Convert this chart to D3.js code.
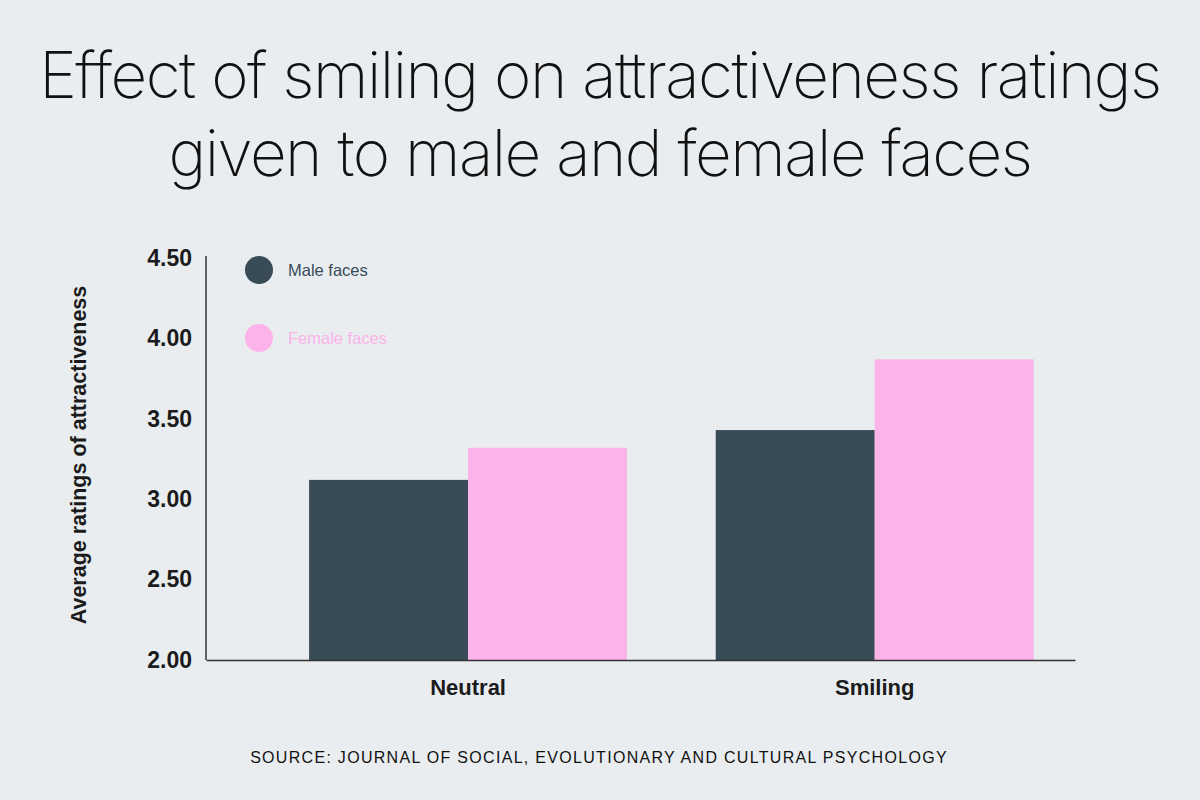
<!DOCTYPE html>
<html>
<head>
<meta charset="utf-8">
<script src="https://cdn.jsdelivr.net/npm/d3@7"></script>
<style>
  body { margin: 0; background: #e9edf0; }
  svg { display: block; }
</style>
</head>
<body>
<div id="chart"></div>
<script>
// data
var categories = ["Neutral", "Smiling"];
var seriesNames = ["Male faces", "Female faces"];
var maleValues = [3.12, 3.43];
var femaleValues = [3.32, 3.87];
var yTicks = [2.00, 2.50, 3.00, 3.50, 4.00, 4.50];

var colors = ["#3a4b58", "#fbb3e9"];

var width = 1200, height = 800;
var margin = { top: 256, right: 125, bottom: 140, left: 206 };
var innerW = width - margin.left - margin.right,
    innerH = height - margin.top - margin.bottom;

var svg = d3.select("#chart").append("svg")
    .attr("width", width)
    .attr("height", height)
    .style("background", "#e9edf0");

// title, two lines
var titleLines = ["Effect of smiling on attractiveness ratings", "given to male and female faces"];
var title = svg.append("g").attr("class", "title");
title.selectAll("text")
    .data(titleLines)
    .enter().append("text")
    .attr("x", width / 2)
    .attr("y", function(d, i) { return 98 + i * 78; })
    .attr("text-anchor", "middle")
    .style("font-family", "Inter, 'Noto Sans', sans-serif")
    .style("font-weight", 250)
    .style("font-size", "64px")
    .style("letter-spacing", "-1.5px")
    .attr("fill", "#111")
    .text(function(d) { return d; });

// shrink/grow so the first line spans about 1122px
var firstLine = title.select("text").node();
var w0 = firstLine.getComputedTextLength();
var fs = 64 * 1122 / w0;
title.selectAll("text").style("font-size", fs + "px");

var g = svg.append("g")
    .attr("transform", "translate(" + margin.left + "," + margin.top + ")");

// scales
var x0 = d3.scaleBand()
    .domain(categories)
    .range([0, innerW])
    .paddingInner(0.218)
    .paddingOuter(0.1775)
    .align(0.714);

var x1 = d3.scaleBand()
    .domain(seriesNames)
    .range([0, x0.bandwidth()]);

var y = d3.scaleLinear()
    .domain([2, 4.5])
    .range([innerH + 0, 2]);

var rows = categories.map(function(c, i) {
    return { category: c, values: [
        { name: seriesNames[0], value: maleValues[i] },
        { name: seriesNames[1], value: femaleValues[i] }
    ]};
});

// bars
var groups = g.selectAll(".group")
    .data(rows)
    .enter().append("g")
    .attr("class", "group")
    .attr("transform", function(d) { return "translate(" + x0(d.category) + ",0)"; });

groups.selectAll("rect")
    .data(function(d) { return d.values; })
    .enter().append("rect")
    .attr("x", function(d) { return x1(d.name); })
    .attr("width", x1.bandwidth())
    .attr("y", function(d) { return y(d.value); })
    .attr("height", function(d) { return y(2) - y(d.value); })
    .attr("fill", function(d, i) { return colors[i]; });

// y axis
var yAxis = d3.axisLeft(y)
    .tickValues(yTicks)
    .tickSize(0)
    .tickPadding(14)
    .tickFormat(d3.format(".2f"));

var yG = g.append("g").attr("class", "y-axis").call(yAxis);
yG.select(".domain").attr("stroke", "#333").attr("stroke-width", 1.5)
    .attr("d", "M0,0V" + innerH);
yG.selectAll("text")
    .style("font-family", "'Liberation Sans', Arial, sans-serif")
    .style("font-weight", "bold")
    .style("font-size", "23px")
    .attr("fill", "#1b1b1b");

// x axis
var xAxis = d3.axisBottom(x0)
    .tickSize(0)
    .tickPadding(19);

var xG = g.append("g")
    .attr("class", "x-axis")
    .attr("transform", "translate(0," + innerH + ")")
    .call(xAxis);
xG.select(".domain").attr("stroke", "#333").attr("stroke-width", 1.5);
xG.selectAll("text")
    .style("font-family", "'Liberation Sans', Arial, sans-serif")
    .style("font-weight", "bold")
    .style("font-size", "22px")
    .attr("fill", "#1b1b1b");

// y axis label
svg.append("text")
    .attr("transform", "translate(" + 86 + "," + 455 + ") rotate(-90)")
    .attr("text-anchor", "middle")
    .style("font-family", "'Liberation Sans', Arial, sans-serif")
    .style("font-weight", "bold")
    .style("font-size", "21.5px")
    .attr("fill", "#1b1b1b")
    .text("Average ratings of attractiveness");

// legend
var legend = svg.append("g")
    .attr("transform", "translate(259,270)");

var items = legend.selectAll(".item")
    .data(seriesNames)
    .enter().append("g")
    .attr("class", "item")
    .attr("transform", function(d, i) { return "translate(0," + i * 68 + ")"; });

items.append("circle")
    .attr("r", 14)
    .attr("fill", function(d, i) { return colors[i]; });

items.append("text")
    .attr("x", 29)
    .attr("dy", "0.35em")
    .style("font-family", "'Liberation Sans', Arial, sans-serif")
    .style("font-size", "16.5px")
    .attr("fill", function(d, i) { return colors[i]; })
    .text(function(d) { return d; });

// source line
svg.append("text")
    .attr("x", 599)
    .attr("y", 763)
    .attr("text-anchor", "middle")
    .style("font-family", "'Liberation Sans', Arial, sans-serif")
    .style("font-size", "16px")
    .style("letter-spacing", "1.3px")
    .attr("fill", "#111")
    .text("SOURCE: JOURNAL OF SOCIAL, EVOLUTIONARY AND CULTURAL PSYCHOLOGY");
</script>
</body>
</html>
